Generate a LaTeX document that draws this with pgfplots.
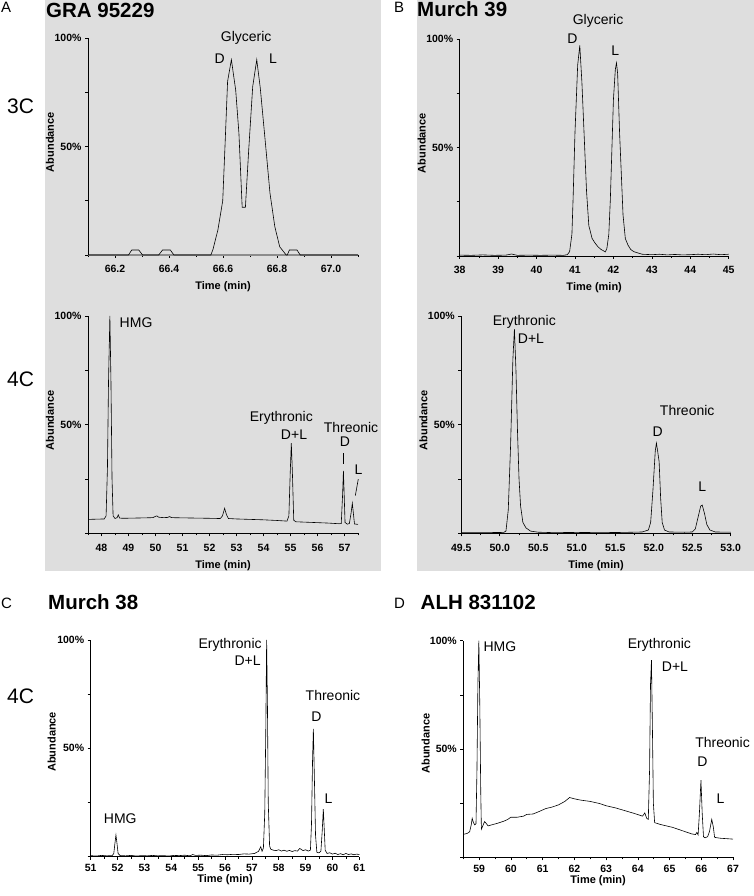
\documentclass[border=0pt]{standalone}
\usepackage{fontspec}
\setmainfont{Liberation Sans}
\usepackage{pgfplots}
\pgfplotsset{compat=1.18}
\definecolor{panelgray}{RGB}{222,222,222}

\pgfplotsset{
  chrom/.style={
    scale only axis, anchor=south west,
    axis lines=left, axis line style={-, line width=0.7pt},
    tick align=outside, major tick length=3pt, minor tick length=2pt,
    tick style={black, line width=0.6pt},
    ymin=0, ymax=100, ytick={0,25,50,75,100}, yticklabels={,,50\%,,100\%},
    /pgf/number format/assume math mode=true,
    every tick label/.append style={font=\bfseries\fontsize{10.5}{12}\selectfont},
    label style={font=\bfseries\fontsize{11}{13}\selectfont},
    xlabel={Time (min)}, ylabel={Abundance},
    ylabel style={at={(axis description cs:-0.141,0.52)}, anchor=center},
    clip=false, no markers,
  },
  toprow/.style={
    xlabel style={at={(axis description cs:0.5,-0.147)}, anchor=center},
    xticklabel style={yshift=-4pt},
  },
  botrow/.style={
    xlabel style={at={(axis description cs:0.5,-0.106)}, anchor=center},
    xticklabel style={yshift=-1pt},
  },
}
\tikzset{
  trace/.style={black, line width=0.6pt, mark=none},
  pk/.style={font=\fontsize{14}{16}\selectfont, inner sep=0pt},
  ttl/.style={font=\bfseries\fontsize{20.5}{24}\selectfont, inner sep=0pt, anchor=base west},
  plet/.style={font=\fontsize{15}{18}\selectfont, inner sep=0pt, anchor=base west},
  ncar/.style={font=\fontsize{21}{24}\selectfont, inner sep=0pt, anchor=base west},
}

\begin{document}
\begin{tikzpicture}
\path[use as bounding box] (0pt,0pt) rectangle (754pt,896pt);
\fill[panelgray] (45pt,325pt) rectangle (381pt,896pt);
\fill[panelgray] (417pt,325pt) rectangle (754pt,896pt);

% panel letters, titles, carbon numbers
\node[plet] at (1pt,883.3pt) {A};
\node[ttl] at (46pt,878.7pt) {GRA 95229};
\node[plet] at (394pt,883.3pt) {B};
\node[ttl] at (417pt,879.3pt) {Murch 39};
\node[plet] at (1pt,287.7pt) {C};
\node[ttl] at (48pt,286pt) {Murch 38};
\node[plet] at (394pt,287.7pt) {D};
\node[ttl] at (420.5pt,286pt) {ALH 831102};
\node[ncar] at (7pt,782.7pt) {3C};
\node[ncar] at (7pt,509.3pt) {4C};
\node[ncar] at (7pt,192.7pt) {4C};

% A, 3C
\begin{axis}[chrom, toprow, at={(88pt,641pt)}, width=270pt, height=217pt,
  xmin=66.1, xmax=67.1, xtick={66.2,66.4,66.6,66.8,67.0},
  xticklabels={66.2,66.4,66.6,66.8,67.0},
  minor xtick={66.1,66.3,66.5,66.7,66.9,67.1},
  x axis line style={line width=1.8pt, black!45}]
\addplot[trace] coordinates {
(66.10,0) (66.25,0) (66.262,2.3) (66.288,2.3) (66.302,0) (66.362,0)
(66.376,2.3) (66.405,2.3) (66.418,0) (66.555,0) (66.563,2.6) (66.581,11.5)
(66.599,25) (66.608,52) (66.617,80) (66.631,90) (66.647,76) (66.659,56)
(66.671,22) (66.683,22) (66.695,48) (66.710,77.6) (66.725,90) (66.738,77)
(66.756,53) (66.774,28.5) (66.792,13) (66.810,3.8) (66.834,0) (66.838,0)
(66.846,2.3) (66.874,2.3) (66.886,0) (67.10,0)};
\node[pk] at (axis cs:66.686,100) {Glyceric};
\node[pk] at (axis cs:66.588,90.6) {D};
\node[pk] at (axis cs:66.785,90.6) {L};
\end{axis}

% B, 3C
\begin{axis}[chrom, toprow, at={(459.7pt,640pt)}, width=269pt, height=217pt,
  xmin=38, xmax=45, xtick={38,...,45},
  minor xtick={38.5,39.5,...,44.5}]
\addplot[trace] coordinates {
(38.0,0.4) (38.3,0.3) (38.6,0.5) (38.9,0.3) (39.2,0.4) (39.35,0.9) (39.5,0.3)
(39.8,0.4) (40.1,0.3) (40.4,0.4) (40.7,0.3) (40.8,0.6) (40.86,2) (40.92,10)
(40.95,26) (41.0,57) (41.07,88) (41.125,97) (41.18,80) (41.24,55) (41.30,30)
(41.36,14) (41.445,8.1) (41.52,6) (41.6,4.2) (41.68,3) (41.79,1.9) (41.83,3.5)
(41.88,10) (41.92,26) (42.0,72) (42.05,86) (42.08,89) (42.11,84) (42.16,57)
(42.25,19) (42.31,8) (42.38,5) (42.45,3) (42.53,2) (42.62,1.5) (42.75,0.8)
(43.0,0.6) (43.2,0.8) (43.4,0.5) (43.6,0.7) (43.8,0.5) (44.0,0.6) (44.2,0.8)
(44.4,0.6) (44.6,0.9) (44.8,0.6) (45.0,0.8)};
\node[pk] at (axis cs:41.6,108.5) {Glyceric};
\node[pk] at (axis cs:40.935,100.1) {D};
\node[pk] at (axis cs:42.05,94.6) {L};
\end{axis}

% A, 4C
\begin{axis}[chrom, toprow, at={(88pt,362.7pt)}, width=270pt, height=217.3pt,
  xmin=47.5, xmax=57.5, xtick={48,...,57},
  minor xtick={47.5,48.5,...,57.5}]
\addplot[trace] coordinates {
(47.52,6.4) (47.8,6.5) (48.1,6.6) (48.17,8) (48.22,30) (48.26,70) (48.31,100)
(48.35,70) (48.39,25) (48.43,8) (48.5,6.8) (48.58,7.2) (48.62,8.5) (48.67,7.0)
(48.8,6.9) (49.2,7.0) (49.6,7.1) (49.9,7.2) (50.0,7.8) (50.05,8.0) (50.12,7.4)
(50.3,7.2) (50.45,7.3) (50.52,7.7) (50.6,7.2) (51.0,7.1) (51.5,7.0) (52.0,6.9)
(52.4,6.8) (52.48,8) (52.56,11.5) (52.63,8.5) (52.7,6.8) (53.0,6.6) (53.5,6.4)
(54.0,6.2) (54.5,5.9) (54.87,5.6) (54.94,8) (54.99,28) (55.03,41.5) (55.07,28)
(55.12,6) (55.2,5.3) (55.6,5.1) (56.0,4.9) (56.4,4.7) (56.8,4.4) (56.88,4.5)
(56.93,18) (56.96,28.7) (56.99,17) (57.02,5) (57.1,4.2) (57.18,4.5) (57.24,9)
(57.29,13.8) (57.33,9) (57.37,4.3) (57.5,4.1)};
\node[pk] at (axis cs:49.28,97.1) {HMG};
\node[pk] at (axis cs:54.66,53.1) {Erythronic};
\node[pk] at (axis cs:55.13,45.2) {D+L};
\node[pk] at (axis cs:57.24,48.5) {Threonic};
\node[pk] at (axis cs:57.02,42.2) {D};
\draw[black, line width=0.6pt] (axis cs:56.96,36.8) -- (axis cs:56.96,31.9);
\node[pk] at (axis cs:57.52,29.4) {L};
\draw[black, line width=0.6pt] (axis cs:57.40,17.3) -- (axis cs:57.51,24.9);
\end{axis}

% B, 4C
\begin{axis}[chrom, toprow, at={(461.3pt,362.7pt)}, width=269.4pt, height=217.3pt,
  xmin=49.5, xmax=53, xtick={49.5,50,...,53},
  xticklabels={49.5,50.0,50.5,51.0,51.5,52.0,52.5,53.0},
  minor xtick={49.75,50.25,...,52.75}]
\addplot[trace] coordinates {
(49.5,0.3) (49.8,0.3) (50.05,0.4) (50.08,1) (50.11,10.7) (50.14,40) (50.17,80)
(50.19,94) (50.21,75) (50.23,47) (50.25,25) (50.27,12.6) (50.30,5) (50.34,2.5)
(50.40,1) (50.5,0.5) (50.7,0.3) (51.0,0.4) (51.3,0.3) (51.6,0.4) (51.85,0.6)
(51.93,1.5) (51.96,5) (51.99,20) (52.02,38) (52.035,41.5) (52.05,38) (52.07,33)
(52.09,16) (52.11,5) (52.14,1.5) (52.2,0.6) (52.4,0.5) (52.5,0.6) (52.54,2)
(52.58,8) (52.61,12.5) (52.63,13) (52.66,9) (52.69,4) (52.73,1.5) (52.8,0.6)
(53.0,0.5)};
\node[pk] at (axis cs:50.318,97.4) {Erythronic};
\node[pk] at (axis cs:50.405,89.5) {D+L};
\node[pk] at (axis cs:52.435,56.4) {Threonic};
\node[pk] at (axis cs:52.052,46.9) {D};
\node[pk] at (axis cs:52.63,21.4) {L};
\end{axis}

% C, 4C
\begin{axis}[chrom, botrow, at={(90.7pt,39.3pt)}, width=268.6pt, height=216.7pt,
  xmin=51, xmax=61, xtick={51,...,61},
  minor xtick={51.5,52.5,...,60.5},
  ylabel style={at={(axis description cs:-0.145,0.53)}}]
\addplot[trace] coordinates {
(51.0,0.5) (51.2,0.3) (51.4,0.6) (51.6,0.4) (51.8,0.5) (51.86,1.5) (51.90,6)
(51.94,10) (51.98,6) (52.02,1.5) (52.1,0.5) (52.3,0.4) (52.5,0.6) (52.7,0.3)
(52.9,0.5) (53.1,0.4) (53.3,0.6) (53.5,0.4) (53.7,0.5) (53.9,0.3) (54.1,0.6)
(54.3,0.5) (54.5,0.7) (54.7,0.4) (54.8,1.0) (54.9,0.6) (55.1,0.7) (55.3,0.5)
(55.5,0.8) (55.7,0.7) (55.9,1.0) (56.1,0.9) (56.3,1.1) (56.5,1.0) (56.7,1.3)
(56.9,1.2) (57.1,1.5) (57.25,2.5) (57.33,4.6) (57.38,2.5) (57.43,4) (57.48,20)
(57.52,60) (57.55,100) (57.58,70) (57.61,25) (57.66,5) (57.70,3.5) (57.8,3)
(57.9,2.8) (58.0,3.2) (58.1,2.6) (58.2,3.0) (58.3,2.5) (58.4,2.9) (58.5,2.4)
(58.6,2.8) (58.7,2.6) (58.78,3.8) (58.84,3.4) (58.9,2.8) (59.0,3.2) (59.1,2.6)
(59.18,3) (59.22,15) (59.26,45) (59.29,59) (59.33,35) (59.37,10) (59.42,2)
(59.5,1.8) (59.57,2.5) (59.62,12) (59.66,22) (59.69,14) (59.73,3) (59.8,1.5)
(59.9,1.8) (60.0,1.2) (60.1,1.6) (60.2,1.0) (60.3,1.4) (60.4,0.9) (60.5,1.5)
(60.6,1.0) (60.7,1.3) (60.8,0.9) (60.9,1.2) (61.0,1.0)};
\node[pk] at (axis cs:52.10,17.7) {HMG};
\node[pk] at (axis cs:56.19,97.7) {Erythronic};
\node[pk] at (axis cs:56.84,90.5) {D+L};
\node[pk] at (axis cs:60.02,74.6) {Threonic};
\node[pk] at (axis cs:59.40,64.6) {D};
\node[pk] at (axis cs:59.85,26.9) {L};
\end{axis}

% D, 4C
\begin{axis}[chrom, botrow, at={(463.3pt,38.7pt)}, width=269.7pt, height=216.6pt,
  xmin=58.5, xmax=67, xtick={59,...,67},
  minor xtick={58.5,59.5,...,66.5},
  ylabel style={at={(axis description cs:-0.139,0.525)}}]
\addplot[trace] coordinates {
(58.5,10.6) (58.62,11.0) (58.7,11.8) (58.75,15) (58.78,18) (58.82,16) (58.86,15)
(58.9,15.5) (58.93,40) (58.96,80) (58.99,100) (59.02,70) (59.05,30) (59.07,13)
(59.1,14) (59.17,16.5) (59.23,15.5) (59.28,14.5) (59.4,15.0) (59.6,15.8)
(59.8,16.8) (59.9,17.5) (60.0,18.5) (60.2,18.5) (60.4,19) (60.5,19.8) (60.7,20)
(60.9,21.2) (61.1,22.5) (61.3,23.2) (61.5,24.2) (61.7,25.8) (61.85,27.6)
(62.0,27.0) (62.2,26.4) (62.5,25.8) (62.8,24.8) (63.0,23.8) (63.3,22.8)
(63.6,21.5) (63.9,20.2) (64.15,19) (64.22,20.5) (64.28,18) (64.33,17.5)
(64.37,40) (64.40,80) (64.43,91) (64.46,60) (64.49,25) (64.53,16) (64.7,15.2)
(64.9,14.5) (65.1,13.8) (65.3,12.8) (65.5,11.8) (65.7,10.8) (65.82,10.5)
(65.86,11.5) (65.9,10.3) (65.94,20) (65.99,35.6) (66.03,20) (66.07,9.5)
(66.12,9.0) (66.2,9.5) (66.26,12) (66.33,17.5) (66.38,14) (66.42,9.2)
(66.6,8.8) (66.8,8.6) (67.0,8.4)};
\node[pk] at (axis cs:59.654,97.2) {HMG};
\node[pk] at (axis cs:64.68,97.9) {Erythronic};
\node[pk] at (axis cs:65.17,87.8) {D+L};
\node[pk] at (axis cs:66.67,53.0) {Threonic};
\node[pk] at (axis cs:66.04,44.0) {D};
\node[pk] at (axis cs:66.61,27.2) {L};
\end{axis}
\end{tikzpicture}
\end{document}
